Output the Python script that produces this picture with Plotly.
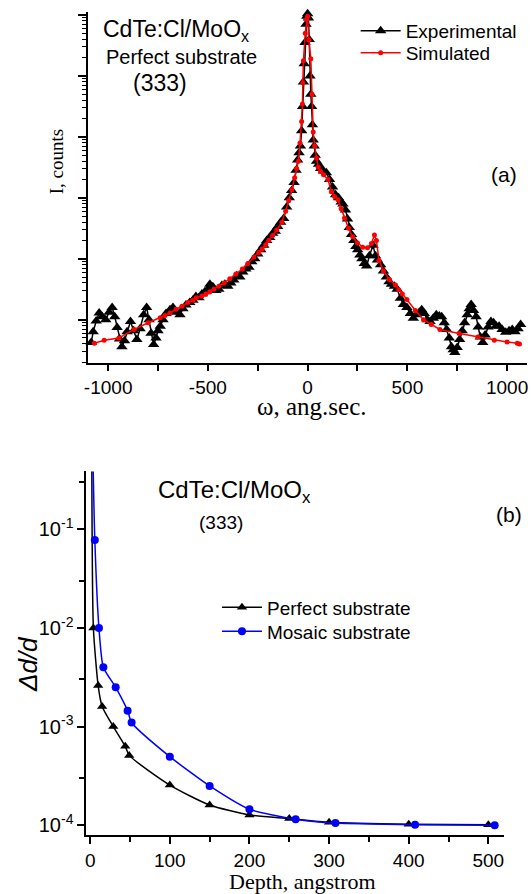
import plotly.graph_objects as go

# ---------------- data: panel (a) ----------------
omega_exp = [-1085, -1075, -1060, -1045, -1030, -1012, -995, -980, -967, -955, -943, -931, -918, -905,
             -888, -872, -856, -840, -822, -807, -795, -785, -772, -760, -750, -739, -725, -710, -690,
             -675, -660, -640, -625, -610, -591, -575, -560, -545, -530, -515, -500, -490, -475, -460,
             -445, -430, -415, -400, -385, -370, -355, -340, -325, -310, -294, -280, -265, -250, -235,
             -220, -205, -190, -175, -162, -150, -135, -120, -105, -92, -80, -68, -58, -50, -43, -36,
             -30, -25, -21, -17, -13, -8, -4, 0, 4, 8, 12, 16, 20, 24, 28, 33, 38, 45, 55, 65, 80, 94,
             110, 125, 140, 155, 168, 177, 190, 200, 209, 220, 232, 242, 251, 262, 272, 284, 296, 310,
             328, 340, 350, 366, 380, 395, 408, 420, 435, 449, 465, 480, 498, 515, 530, 545, 560, 572,
             585, 600, 614, 630, 645, 660, 672, 685, 697, 710, 721, 730, 738, 750, 762, 775, 787, 800,
             810, 820, 832, 845, 855, 866, 878, 890, 905, 919, 932, 945, 960, 975, 993, 1010, 1026,
             1040, 1055, 1068]
counts_exp = [4.2, 6.3, 9.5, 12.9, 11.2, 10, 13.2, 15.8, 11.2, 7.4, 4.8, 3.6, 4.5, 6.3,
              9.3, 6.6, 4.7, 7.1, 12.0, 15.8, 10, 6.0, 3.9, 5.0, 6.6, 7.8, 10, 12.6, 14.5,
              15.8, 13.2, 12.0, 15.1, 17.4, 19.1, 20.9, 24.0, 22.9, 26.3, 28.8, 31.6, 38.0, 34.7, 30.2,
              31.6, 36.3, 38.0, 35.5, 39.8, 44.7, 52.5, 50.1, 60.3, 67.6, 72.4, 89.1, 100, 120, 141,
              166, 200, 224, 263, 282, 339, 398, 457, 708, 1000, 1320, 1780, 2820, 4170, 5500, 7080,
              12600, 31600, 79400, 158000, 355000, 708000, 955000, 1050000, 891000, 398000, 100000,
              50100, 31600, 15800, 8910, 7080, 5010, 3980, 3550, 3020, 2750, 2570,
              2000, 1510, 1120, 1000, 851, 794, 631, 447, 324, 251, 200, 158, 141, 115, 100, 83.2, 75.9, 112,
              166, 112, 95.5, 79.4, 63.1, 50.1, 41.7, 38.0, 35.5, 31.6, 22.4, 17.8, 15.8, 12.6, 10.5, 12.0, 13.2, 14.5,
              12.6, 10, 9.3, 10.5, 12.0, 11.5, 11.2, 8.9, 6.9, 5.0, 3.6, 3.2, 2.9, 3.5, 4.7, 6.6, 8.9, 12.0,
              15.1, 17.8, 14.1, 11.2, 7.6, 5.2, 4.2, 5.6, 7.6, 9.3, 8.9, 7.9, 7.8, 6.9, 6.2, 6.6, 6.9,
              6.3, 7.1, 8.3]

omega_sim = [-1069, -1020, -946, -870, -800, -739, -715, -690, -660, -630, -600, -575, -558, -530,
             -510, -490, -470, -445, -418, -390, -360, -327, -300, -269, -245, -228, -210, -195, -175,
             -155, -129, -110, -95, -79, -65, -55, -46, -38, -30, -26, -24, -21, -12, -5, 0, 6, 16, 22,
             28, 35, 45, 53, 65, 80, 102, 119, 135, 152, 168, 185, 205, 226, 250, 276, 300, 320, 335,
             345, 358, 380, 410, 440, 457, 475, 498, 540, 581, 620, 663, 760, 853, 936, 1000, 1051, 1062]
counts_sim = [4.1, 4.6, 5.0, 6.9, 8.9, 10.7, 11.7, 12.9, 14.8, 16.6, 19.1, 20.9, 22.9, 24.5,
              26.3, 28.8, 31.6, 35.5, 39.8, 46.8, 56.2, 67.6, 83.2, 107, 126, 145, 170, 200, 240,
              295, 398, 603, 891, 1350, 2140, 3020, 3980, 7940, 17800, 34700, 77600, 178000, 501000,
              851000, 955000, 389000, 191000, 50100,
              12000, 7080, 4470, 3160, 2690, 2400, 2000, 1260, 1050, 933, 661, 468, 316, 229, 182, 155, 151, 178, 245,
              200, 93.3, 63.1, 45.7, 37.2, 30.9, 26.3, 21.4, 14.1, 10, 8.3, 6.9, 5.9, 5.2, 4.6, 4.3, 4.1, 4.0]

a_xticks = [-1000, -500, 0, 500, 1000]
a_xticklabels = ["-1000", "-500", "0", "500", "1000"]
a_xminor = [-750, -250, 250, 750]
a_ydecades = [10, 100, 1000, 10000, 100000, 1000000]

# ---------------- data: panel (b) ----------------
depth_perfect = [2, 4, 10, 15, 29, 44, 49, 100, 150, 200, 250, 300, 400, 500]
dd_perfect = [0.6, 1.0e-2, 2.6e-3, 1.6e-3, 1.0e-3, 6.3e-4, 5.1e-4, 2.55e-4, 1.6e-4, 1.27e-4,
              1.17e-4, 1.07e-4, 1.02e-4, 1.01e-4]
depth_mosaic = [3, 5.8, 11, 16.5, 32, 47, 52, 100, 150, 200, 258, 308, 408, 508]
dd_mosaic = [0.8, 0.078, 1.0e-2, 4.0e-3, 2.5e-3, 1.45e-3, 1.1e-3, 4.95e-4, 2.5e-4, 1.45e-4,
             1.15e-4, 1.05e-4, 1.01e-4, 1.0e-4]

b_xticks = [0, 100, 200, 300, 400, 500]
b_xminor = [50, 150, 250, 350, 450]
b_yticks = [1e-4, 1e-3, 1e-2, 1e-1]
b_yticklabels = ["10<sup>-4</sup>", "10<sup>-3</sup>", "10<sup>-2</sup>", "10<sup>-1</sup>"]
b_yminor = [3e-4, 3e-3, 3e-2, 3e-1]

# ---------------- figure ----------------
W, H = 531, 894
SANS = "Liberation Sans, Arial, sans-serif"
SERIF = "Liberation Serif, Times New Roman, serif"


def fx(p):
    return p / W


def fy(p):
    return 1 - p / H


fig = go.Figure()
fig.add_trace(go.Scatter(x=omega_exp, y=counts_exp, mode="lines+markers", name="Experimental",
                         line=dict(color="black", width=1.5),
                         marker=dict(symbol="triangle-up", size=10, color="black"),
                         xaxis="x", yaxis="y", legend="legend", showlegend=True, cliponaxis=False))
fig.add_trace(go.Scatter(x=omega_sim, y=counts_sim, mode="lines+markers", name="Simulated",
                         line=dict(color="red", width=1.5),
                         marker=dict(symbol="circle", size=5, color="red"),
                         xaxis="x", yaxis="y", legend="legend2", showlegend=True, cliponaxis=False))
fig.add_trace(go.Scatter(x=depth_perfect, y=dd_perfect, mode="lines+markers", name="Perfect substrate",
                         line=dict(color="black", width=1.5, shape="spline", smoothing=0.6),
                         marker=dict(symbol="triangle-up", size=9, color="black"),
                         xaxis="x2", yaxis="y2", legend="legend3", showlegend=True))
fig.add_trace(go.Scatter(x=depth_mosaic, y=dd_mosaic, mode="lines+markers", name="Mosaic substrate",
                         line=dict(color="#0000ff", width=1.5, shape="spline", smoothing=0.6),
                         marker=dict(symbol="circle", size=8, color="#0000ff"),
                         xaxis="x2", yaxis="y2", legend="legend4", showlegend=True))

axis_common = dict(showline=True, linecolor="black", linewidth=1.5, showgrid=False, zeroline=False,
                   ticks="outside", tickcolor="black", tickwidth=1.5, mirror=False)


def leg(xp, ytop, size):
    return dict(x=fx(xp), y=fy(ytop), xanchor="left", yanchor="top", bgcolor="rgba(0,0,0,0)",
                font=dict(family=SANS, size=size, color="black"), itemwidth=40, visible=True)


fig.update_layout(
    width=W, height=H, margin=dict(l=0, r=0, t=0, b=0),
    paper_bgcolor="white", plot_bgcolor="white", showlegend=True,
    xaxis=dict(domain=[fx(85), fx(528)], anchor="y", range=[-1100, 1100],
               tickvals=a_xticks, ticktext=a_xticklabels, ticklen=7,
               tickfont=dict(family=SANS, size=19, color="black"),
               minor=dict(tickvals=a_xminor, ticks="outside", ticklen=7, tickcolor="black", tickwidth=1.5),
               **axis_common),
    yaxis=dict(domain=[fy(363), fy(12)], anchor="x", type="log", range=[0.295, 6.05],
               tickvals=a_ydecades, showticklabels=False, ticklen=8,
               minor=dict(tickvals=[m * d for d in [1] + a_ydecades for m in range(2, 10)],
                          ticks="outside", ticklen=4, tickcolor="black", tickwidth=1.2),
               **axis_common),
    xaxis2=dict(domain=[fx(83), fx(505)], anchor="y2", range=[-5, 520],
                tickvals=b_xticks, ticklen=7,
                tickfont=dict(family=SANS, size=19, color="black"),
                minor=dict(tickvals=b_xminor, ticks="outside", ticklen=5, tickcolor="black", tickwidth=1.5),
                **axis_common),
    yaxis2=dict(domain=[fy(836), fy(472)], anchor="x2", type="log", range=[-4.1, -0.414],
                tickvals=b_yticks, ticktext=b_yticklabels, ticklen=7,
                tickfont=dict(family=SANS, size=20, color="black"),
                minor=dict(tickvals=b_yminor, ticks="outside", ticklen=5, tickcolor="black", tickwidth=1.5),
                **axis_common),
    legend=leg(355, 12, 19),
    legend2=leg(355, 34, 19),
    legend3=leg(215, 589, 19),
    legend4=leg(215, 613, 19),
)

annotations = [
    # panel (a)
    dict(text="CdTe:Cl/MoO<sub>x</sub>", x=fx(98), y=fy(31), xanchor="left", yanchor="middle",
         font=dict(family=SANS, size=23, color="black")),
    dict(text="Perfect substrate", x=fx(101), y=fy(57), xanchor="left", yanchor="middle",
         font=dict(family=SANS, size=20, color="black")),
    dict(text="(333)", x=fx(128), y=fy(83), xanchor="left", yanchor="middle",
         font=dict(family=SANS, size=23, color="black")),
    dict(text="(a)", x=fx(505), y=fy(175), xanchor="center", yanchor="middle",
         font=dict(family=SANS, size=21, color="black")),
    dict(text="I, counts", x=fx(53), y=fy(162), xanchor="center", yanchor="middle", textangle=-90,
         font=dict(family=SERIF, size=19, color="black")),
    dict(text="\u03c9, ang.sec.", x=fx(310), y=fy(407), xanchor="center", yanchor="middle",
         font=dict(family=SERIF, size=25, color="black")),
    # panel (b)
    dict(text="CdTe:Cl/MoO<sub>x</sub>", x=fx(153), y=fy(492), xanchor="left", yanchor="middle",
         font=dict(family=SANS, size=24, color="black")),
    dict(text="(333)", x=fx(195), y=fy(523), xanchor="left", yanchor="middle",
         font=dict(family=SANS, size=19, color="black")),
    dict(text="(b)", x=fx(510), y=fy(515), xanchor="center", yanchor="middle",
         font=dict(family=SANS, size=21, color="black")),
    dict(text="<i>\u0394d/d</i>", x=fx(24), y=fy(665), xanchor="center", yanchor="middle", textangle=-90,
         font=dict(family=SANS, size=26, color="black")),
    dict(text="Depth, angstrom", x=fx(301), y=fy(882), xanchor="center", yanchor="middle",
         font=dict(family=SERIF, size=22, color="black")),
]
for a in annotations:
    a.update(xref="paper", yref="paper", showarrow=False)
fig.update_layout(annotations=annotations)

fig.write_html("out.html", config={"displayModeBar": False},
               post_script="document.body.style.margin='0px';document.body.style.overflow='hidden';")
